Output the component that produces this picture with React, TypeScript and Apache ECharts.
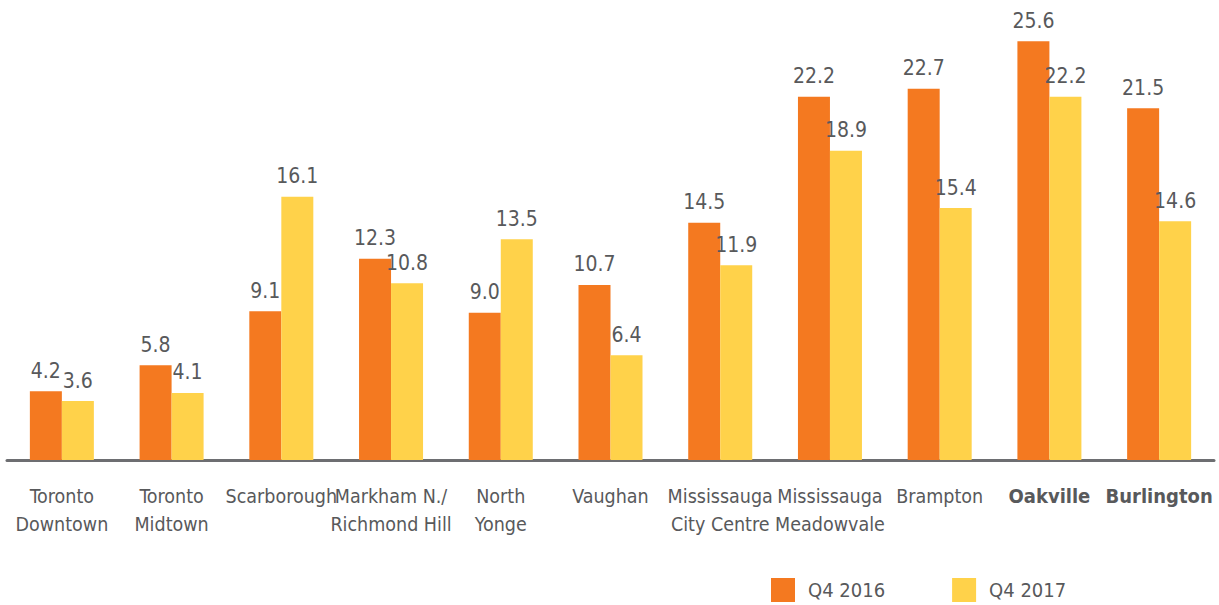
import React, { useEffect, useRef } from "react";
import * as echarts from "echarts";

const categories = [
  "Toronto\nDowntown",
  "Toronto\nMidtown",
  "Scarborough",
  "Markham N./\nRichmond Hill",
  "North\nYonge",
  "Vaughan",
  "Mississauga\nCity Centre",
  "Mississauga\nMeadowvale",
  "Brampton",
  "Oakville",
  "Burlington",
];
const boldCategories = ["Oakville", "Burlington"];
const q42016 = [4.2, 5.8, 9.1, 12.3, 9.0, 10.7, 14.5, 22.2, 22.7, 25.6, 21.5];
const q42017 = [3.6, 4.1, 16.1, 10.8, 13.5, 6.4, 11.9, 18.9, 15.4, 22.2, 14.6];
const seriesNames = ["Q4 2016", "Q4 2017"];

const FONT = "'DejaVu Sans Condensed', 'Liberation Sans Narrow', sans-serif";
const TEXT = "#58595b";

export default function App() {
  const ref = useRef<HTMLDivElement>(null);
  useEffect(() => {
    if (!ref.current) return;
    const chart = echarts.init(ref.current, null, { renderer: "svg" });
    const label = {
      show: true,
      position: "top",
      distance: 10,
      color: TEXT,
      fontFamily: FONT,
      fontSize: 21,
      formatter: (p: any) => Number(p.value).toFixed(1),
    };
    chart.setOption({
      animation: false,
      grid: { left: 7, width: 1207, top: 2, height: 458 },
      legend: {
        left: 771,
        top: 578,
        padding: 0,
        itemWidth: 24,
        itemHeight: 24,
        itemGap: 67,
        icon: "rect",
        textStyle: { color: TEXT, fontFamily: FONT, fontSize: 20, padding: [0, 0, 0, 8] },
        data: seriesNames,
      },
      xAxis: {
        type: "category",
        data: categories,
        axisLine: { lineStyle: { color: "#6d6e71", width: 3 } },
        axisTick: { show: false },
        axisLabel: {
          interval: 0,
          margin: 22,
          color: TEXT,
          fontFamily: FONT,
          fontSize: 19.5,
          lineHeight: 28,
          formatter: (v: string) =>
            boldCategories.includes(v) ? `{b|${v}}` : v,
          rich: {
            b: { fontWeight: "bold", fontFamily: FONT, fontSize: 20, color: TEXT },
          },
        },
      },
      yAxis: {
        type: "value",
        min: 0,
        max: 28,
        show: false,
        splitLine: { show: false },
      },
      series: [
        {
          name: seriesNames[0],
          type: "bar",
          data: q42016,
          barWidth: 32,
          barGap: "0%",
          itemStyle: { color: "#f47920" },
          label,
        },
        {
          name: seriesNames[1],
          type: "bar",
          data: q42017,
          barWidth: 32,
          itemStyle: { color: "#ffd24a" },
          label,
        },
      ],
    });
    return () => chart.dispose();
  }, []);
  return (
    <div
      ref={ref}
      style={{ position: "absolute", left: 0, top: 0, width: 1219, height: 605, background: "#fff" }}
    />
  );
}
